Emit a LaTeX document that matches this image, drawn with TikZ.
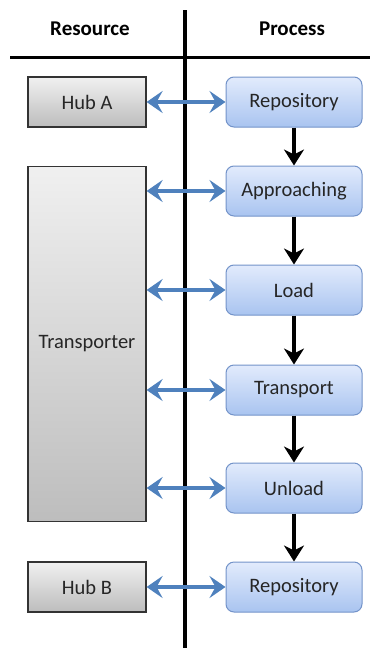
\documentclass[tikz,border=0pt]{standalone}
\usepackage{fontspec}
\setmainfont{Carlito}
\usetikzlibrary{arrows.meta}
\definecolor{bluetop}{HTML}{E2EBFC}
\definecolor{bluebot}{HTML}{A9C4F0}
\definecolor{blueedge}{HTML}{7393C9}
\definecolor{grytop}{HTML}{F0F0F0}
\definecolor{grybot}{HTML}{BDBDBD}
\definecolor{linkblue}{HTML}{4F81BD}
\tikzset{
  procbox/.style={draw=blueedge, line width=1pt, rounded corners=8pt, top color=bluetop, bottom color=bluebot, minimum width=136pt, minimum height=50pt, inner sep=0pt, font=\fontsize{20.5}{24}\selectfont, text=black!85},
  resbox/.style={draw=black!80, line width=1.2pt, top color=grytop, bottom color=grybot, minimum width=118pt, inner sep=0pt, font=\fontsize{20.5}{24}\selectfont, text=black!85},
  header/.style={font=\fontsize{21}{25}\bfseries\selectfont},
  flow/.style={-{Stealth[length=16pt,width=20pt,inset=5pt]}, line width=4pt, black},
  link/.style={{Stealth[length=16pt,width=22pt,inset=6pt]}-{Stealth[length=16pt,width=22pt,inset=6pt]}, line width=4.5pt, linkblue},
  rule/.style={line width=3.6pt, black}
}
\begin{document}
\begin{tikzpicture}[x=1pt,y=-1pt]
\useasboundingbox (0,0) rectangle (370,648);
\coordinate (vtop) at (185,10);
\coordinate (vbot) at (185,648);
\coordinate (hl) at (10,57.5);
\coordinate (hr) at (370,57.5);
\draw[rule] (vtop) -- (vbot);
\draw[rule] (hl) -- (hr);
\node[header] (hres) at (90,29) {Resource};
\node[header] (hproc) at (292,29) {Process};

\node[procbox] (p1) at (294,102) {Repository};
\node[procbox] (p2) at (294,191) {Approaching};
\node[procbox] (p3) at (294,290) {Load};
\node[procbox] (p4) at (294,390) {Transport};
\node[procbox] (p5) at (294,488) {Unload};
\node[procbox] (p6) at (294,587) {Repository};

\node[resbox, minimum height=50pt] (hubA) at (87,102) {Hub A};
\node[resbox, minimum height=355pt] (tr) at (87,344) {Transporter};
\node[resbox, minimum height=50pt] (hubB) at (87,587) {Hub B};

\foreach \a/\b in {p1/p2,p2/p3,p3/p4,p4/p5,p5/p6}
  \draw[flow] (\a) -- (\b);

\draw[link] (hubA) -- (p1);
\draw[link] (tr.east |- p2) -- (p2);
\draw[link] (tr.east |- p3) -- (p3);
\draw[link] (tr.east |- p4) -- (p4);
\draw[link] (tr.east |- p5) -- (p5);
\draw[link] (hubB) -- (p6);
\end{tikzpicture}
\end{document}
